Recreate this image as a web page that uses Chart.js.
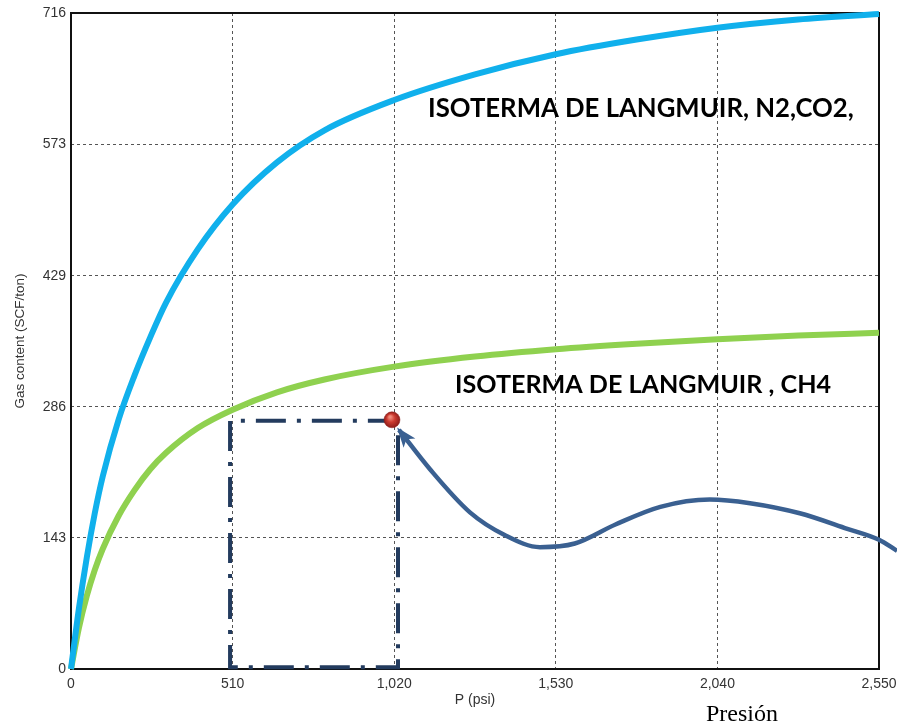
<!DOCTYPE html>
<html>
<head>
<meta charset="utf-8">
<script src="https://cdn.jsdelivr.net/npm/chart.js@4.4.1/dist/chart.umd.min.js"></script>
<style>
html,body{margin:0;padding:0;background:#fff;}
#wrap{position:relative;width:897px;height:726px;}
</style>
</head>
<body>
<div id="wrap"><canvas id="c" width="897" height="726"></canvas></div>
<script>
// ---- data ----
const xTicks = [0, 510, 1020, 1530, 2040, 2550];
const yTicks = [0, 143, 286, 429, 573, 716];

// N2,CO2 isotherm (blue)
const pBlue = [0, 25, 50, 75, 100, 150, 200, 250, 300, 400, 510, 650, 800, 1020, 1275, 1530, 1785, 2040, 2295, 2550];
const vBlue = [0, 66, 122, 170, 210, 272, 320, 362, 400, 458, 507, 553, 588, 621, 649, 671, 687, 700, 709, 715];

// CH4 isotherm (green)
const pGreen = [0, 25, 50, 75, 100, 150, 200, 250, 300, 400, 510, 650, 800, 1020, 1275, 1530, 1785, 2040, 2295, 2550];
const vGreen = [0, 45, 80, 108, 131, 167, 195, 218, 236, 263, 283, 302, 316, 330, 341, 349, 355, 360, 364, 367];

// pressure path annotation (dark blue arrow line)
const pPath = [1035, 1133, 1259, 1370, 1480, 1590, 1720, 1860, 2016, 2143, 2300, 2450, 2550, 2607];
const vPath = [261, 218, 171, 146, 133, 137, 158, 177, 185, 181, 170, 153, 141, 129];

// dash-dot box
const pBox = [1032, 1032, 502, 502, 1013];
const vBox = [255, 2, 2, 271, 271];

// marked point
const pMark = [1013];
const vMark = [272];

const labelN2 = "ISOTERMA DE LANGMUIR, N2,CO2,";
const labelCH4 = "ISOTERMA DE LANGMUIR , CH4";
const labelPres = "Presión";
const xTitle = "P (psi)";
const yTitle = "Gas content (SCF/ton)";

const zip = (xs, ys) => xs.map((x, i) => ({x: x, y: ys[i]}));

const framePlugin = {
  id: 'frame',
  beforeDatasetsDraw(chart) {
    const a = chart.chartArea, ctx = chart.ctx;
    ctx.save();
    ctx.strokeStyle = '#111';
    ctx.lineWidth = 2;
    ctx.strokeRect(a.left, a.top, a.right - a.left, a.bottom - a.top);
    ctx.restore();
  }
};

const arrowPlugin = {
  id: 'arrowHead',
  afterDatasetsDraw(chart) {
    const meta = chart.getDatasetMeta(2);
    if (!meta || !meta.data.length) return;
    const p0 = meta.data[0], p1 = meta.data[1];
    const ctx = chart.ctx;
    const dx = p0.x - p1.x, dy = p0.y - p1.y;
    const L = Math.hypot(dx, dy);
    const ux = dx / L, uy = dy / L;
    const len = 20, hw = 7.5;
    const tx = p0.x + ux * 3, ty = p0.y + uy * 3;
    const bx = tx - ux * len, by = ty - uy * len;
    ctx.save();
    ctx.fillStyle = '#3a6091';
    ctx.beginPath();
    ctx.moveTo(tx, ty);
    ctx.lineTo(bx - uy * hw, by + ux * hw);
    ctx.lineTo(bx + ux * 5, by + uy * 5);
    ctx.lineTo(bx + uy * hw, by - ux * hw);
    ctx.closePath();
    ctx.fill();
    ctx.restore();
  }
};

const textPlugin = {
  id: 'texts',
  afterDraw(chart) {
    const ctx = chart.ctx;
    ctx.save();
    ctx.fillStyle = '#000';
    ctx.textBaseline = 'alphabetic';
    ctx.textAlign = 'left';
    const fam = 'Lato, "Open Sans", sans-serif';
    const fit = (txt, w) => {
      ctx.font = 'bold 20px ' + fam;
      return 20 * w / ctx.measureText(txt).width;
    };
    let s = fit(labelN2, 426);
    ctx.font = 'bold ' + s.toFixed(2) + 'px ' + fam;
    ctx.fillText(labelN2, 428, 117);
    s = fit(labelCH4, 376);
    ctx.font = 'bold ' + s.toFixed(2) + 'px ' + fam;
    ctx.fillText(labelCH4, 455, 393);
    ctx.font = '24px "Liberation Serif", "Times New Roman", serif';
    ctx.textAlign = 'center';
    ctx.fillText(labelPres, 742, 721);
    ctx.restore();
  }
};

const sphereFill = (c) => {
  const ch = c.chart;
  if (!ch.chartArea || !c.parsed) return '#c3302a';
  const x = ch.scales.x.getPixelForValue(c.parsed.x);
  const y = ch.scales.y.getPixelForValue(c.parsed.y);
  const g = ch.ctx.createRadialGradient(x - 2, y - 3, 1, x, y, 8);
  g.addColorStop(0, '#f08a7a');
  g.addColorStop(0.45, '#cc3a2f');
  g.addColorStop(1, '#8e1d1a');
  return g;
};

const tickFont = {family: '"Liberation Sans", Arial, sans-serif', size: 14};

new Chart(document.getElementById('c'), {
  type: 'scatter',
  data: {
    datasets: [
      {
        label: 'CH4',
        data: zip(pGreen, vGreen),
        showLine: true, borderColor: '#8fd14f', borderWidth: 6,
        pointRadius: 0, cubicInterpolationMode: 'monotone', clip: false, order: 3
      },
      {
        label: 'N2,CO2',
        data: zip(pBlue, vBlue),
        showLine: true, borderColor: '#10b0ec', borderWidth: 6,
        pointRadius: 0, cubicInterpolationMode: 'monotone', clip: false, order: 2
      },
      {
        label: 'path',
        data: zip(pPath, vPath),
        showLine: true, borderColor: '#3a6091', borderWidth: 4.5,
        pointRadius: 0, cubicInterpolationMode: 'monotone', clip: false, order: 4
      },
      {
        label: 'box',
        data: zip(pBox, vBox),
        showLine: true, borderColor: '#233b5e', borderWidth: 4,
        borderDash: [30, 11, 4, 11], borderCapStyle: 'butt',
        pointRadius: 0, tension: 0, clip: false, order: 5
      },
      {
        label: 'mark',
        data: zip(pMark, vMark),
        showLine: false, pointRadius: 8, pointBackgroundColor: sphereFill,
        pointBorderColor: '#8e1d1a', pointBorderWidth: 0.5, clip: false, order: 1
      }
    ]
  },
  options: {
    responsive: false,
    animation: false,
    events: [],
    layout: {padding: {left: 0, top: 13, right: 18, bottom: 0}},
    elements: {line: {capBezierPoints: false}},
    plugins: {legend: {display: false}, tooltip: {enabled: false}},
    scales: {
      x: {
        type: 'linear', bounds: 'data', grace: 0,
        afterDataLimits: (sc) => { sc.min = xTicks[0]; sc.max = xTicks[xTicks.length - 1]; },
        afterBuildTicks: (sc) => { sc.ticks = xTicks.map(v => ({value: v})); sc.min = xTicks[0]; sc.max = xTicks[xTicks.length - 1]; },
        afterFit: (sc) => { sc.height = 57; sc.paddingLeft = 0; sc.paddingRight = 0; },
        ticks: {
          color: '#333', font: tickFont, padding: 7, maxRotation: 0,
          callback: (v) => Number(v).toLocaleString('en-US')
        },
        grid: {color: '#555', lineWidth: 1, drawTicks: false},
        border: {display: false, dash: [3, 3]},
        title: {display: true, text: xTitle, color: '#333', font: tickFont, padding: {top: 0, bottom: 17.6}}
      },
      y: {
        type: 'linear', bounds: 'data', grace: 0,
        afterDataLimits: (sc) => { sc.min = yTicks[0]; sc.max = yTicks[yTicks.length - 1]; },
        afterBuildTicks: (sc) => { sc.ticks = yTicks.map(v => ({value: v})); sc.min = yTicks[0]; sc.max = yTicks[yTicks.length - 1]; },
        afterFit: (sc) => { sc.width = 71; sc.paddingTop = 0; sc.paddingBottom = 0; },
        ticks: {color: '#333', font: tickFont, padding: 5},
        grid: {color: '#555', lineWidth: 1, drawTicks: false},
        border: {display: false, dash: [3, 3]},
        title: {display: true, text: yTitle, color: '#333', font: {family: tickFont.family, size: 13.5}, padding: {top: 12, bottom: 0}}
      }
    }
  },
  plugins: [framePlugin, arrowPlugin, textPlugin]
});
</script>
</body>
</html>
